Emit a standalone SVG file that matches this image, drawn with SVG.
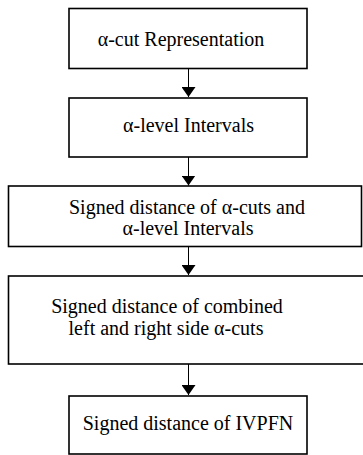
<svg xmlns="http://www.w3.org/2000/svg" width="363" height="455" viewBox="0 0 363 455">
<defs>
<marker id="ah" viewBox="0 0 10 14" refX="10" refY="7" markerWidth="10" markerHeight="14" markerUnits="userSpaceOnUse" orient="auto">
<path d="M0,0 L10,7 L0,14 z" fill="#000"/>
</marker>
</defs>
<style>
.box{fill:#fff;stroke:#000;stroke-width:1.6}
.t{font-family:"Liberation Serif","Times New Roman",serif;font-size:20px;fill:#000;text-anchor:middle}
.c{stroke:#000;stroke-width:1;fill:none}
</style>
<rect width="363" height="455" fill="#fff"/>
<g id="connectors">
<line class="c" x1="188.5" y1="68" x2="188.5" y2="97" marker-end="url(#ah)"/>
<line class="c" x1="188.5" y1="157" x2="188.5" y2="185.5" marker-end="url(#ah)"/>
<line class="c" x1="188.5" y1="246.5" x2="188.5" y2="275" marker-end="url(#ah)"/>
<line class="c" x1="188.5" y1="364" x2="188.5" y2="395" marker-end="url(#ah)"/>
</g>
<g id="n1">
<rect class="box" x="69" y="8.5" width="238" height="60"/>
<text class="t" x="181" y="46">α-cut Representation</text>
</g>
<g id="n2">
<rect class="box" x="69" y="98" width="238" height="59"/>
<text class="t" x="188.5" y="132">α-level Intervals</text>
</g>
<g id="n3">
<rect class="box" x="8.5" y="186" width="353" height="60.5"/>
<text class="t" x="187" y="214">Signed distance of α-cuts and</text>
<text class="t" x="188" y="235">α-level Intervals</text>
</g>
<g id="n4">
<rect class="box" x="8.5" y="276" width="356" height="88"/>
<text class="t" x="167" y="313">Signed distance of combined</text>
<text class="t" x="166" y="335">left and right side α-cuts</text>
</g>
<g id="n5">
<rect class="box" x="69" y="396" width="238" height="58"/>
<text class="t" x="188" y="430">Signed distance of IVPFN</text>
</g>
</svg>
